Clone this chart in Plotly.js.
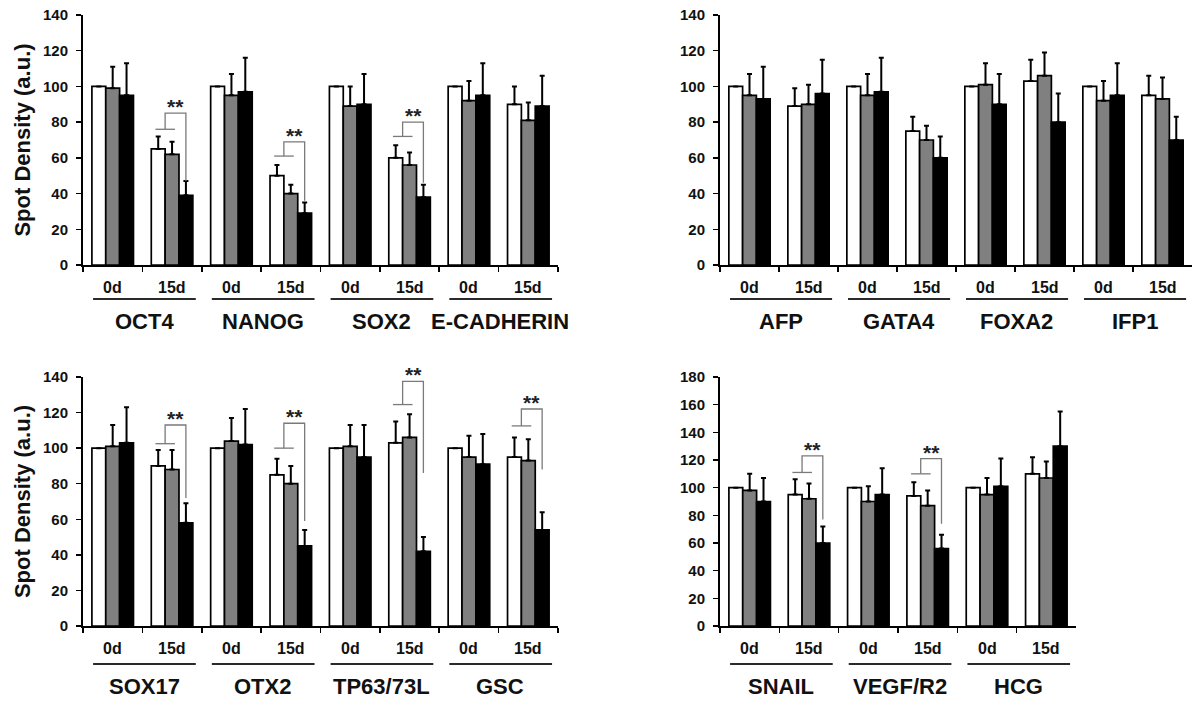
<!DOCTYPE html>
<html>
<head>
<meta charset="utf-8">
<script src="https://cdn.plot.ly/plotly-3.0.1.min.js"></script>
<style>html,body{margin:0;padding:0;background:#fff;}#chart{width:1195px;height:701px;}</style>
</head>
<body>
<div id="chart"></div>
<script>
// ---------- DATA ----------
const timepoints = ["0d", "15d"];

const p1Genes = ["OCT4", "NANOG", "SOX2", "E-CADHERIN"];
const p1White = [100, 65, 100, 50, 100, 60, 100, 90];
const p1WhiteErr = [null, 7, null, 6, null, 7, null, 10];
const p1Gray = [99, 62, 95, 40, 89, 56, 92, 81];
const p1GrayErr = [12, 7, 12, 5, 11, 7, 11, 10];
const p1Black = [95, 39, 97, 29, 90, 38, 95, 89];
const p1BlackErr = [18, 8, 19, 6, 17, 7, 18, 17];

const p2Genes = ["AFP", "GATA4", "FOXA2", "IFP1"];
const p2White = [100, 89, 100, 75, 100, 103, 100, 95];
const p2WhiteErr = [null, 10, null, 8, null, 12, null, 11];
const p2Gray = [95, 90, 95, 70, 101, 106, 92, 93];
const p2GrayErr = [12, 11, 12, 8, 12, 13, 11, 12];
const p2Black = [93, 96, 97, 60, 90, 80, 95, 70];
const p2BlackErr = [18, 19, 19, 12, 17, 16, 18, 13];

const p3Genes = ["SOX17", "OTX2", "TP63/73L", "GSC"];
const p3White = [100, 90, 100, 85, 100, 103, 100, 95];
const p3WhiteErr = [null, 9, null, 9, null, 12, null, 11];
const p3Gray = [101, 88, 104, 80, 101, 106, 95, 93];
const p3GrayErr = [12, 11, 13, 10, 12, 13, 12, 12];
const p3Black = [103, 58, 102, 45, 95, 42, 91, 54];
const p3BlackErr = [20, 11, 20, 9, 18, 8, 17, 10];

const p4Genes = ["SNAIL", "VEGF/R2", "HCG"];
const p4White = [100, 95, 100, 94, 100, 110];
const p4WhiteErr = [null, 11, null, 10, null, 12];
const p4Gray = [98, 92, 90, 87, 95, 107];
const p4GrayErr = [12, 11, 11, 11, 12, 12];
const p4Black = [90, 60, 95, 56, 101, 130];
const p4BlackErr = [17, 12, 19, 10, 20, 25];

// significance brackets: panel, category index, [short line y, bracket top y, bracket end y]
const sigPanel = [1, 1, 1, 3, 3, 3, 3, 4, 4];
const sigIndex = [1, 3, 5, 1, 3, 5, 7, 1, 3];
const sigLow = [76, 61, 72, 102.5, 100, 124.5, 112.5, 111, 110];
const sigTop = [85, 69, 80, 113, 114, 137.5, 122, 123, 121];
const sigEnd = [47, 36, 46, 72, 59, 86, 88, 77, 74];
const sigLabel = "**";

// ---------- LAYOUT GEOMETRY ----------
const W = 1195, H = 701;
const px = v => v / W;
const py = v => 1 - v / H;

const panels = [
  {genes: p1Genes, white: p1White, whiteErr: p1WhiteErr, gray: p1Gray, grayErr: p1GrayErr, black: p1Black, blackErr: p1BlackErr,
   x0: 83, x1: 558, yTop: 15, yBot: 265, ymax: 140, dayY: 287, lineY: 299, geneY: 321, title: true},
  {genes: p2Genes, white: p2White, whiteErr: p2WhiteErr, gray: p2Gray, grayErr: p2GrayErr, black: p2Black, blackErr: p2BlackErr,
   x0: 720, x1: 1192, yTop: 15, yBot: 265, ymax: 140, dayY: 287, lineY: 299, geneY: 321, title: false},
  {genes: p3Genes, white: p3White, whiteErr: p3WhiteErr, gray: p3Gray, grayErr: p3GrayErr, black: p3Black, blackErr: p3BlackErr,
   x0: 83, x1: 558, yTop: 377, yBot: 626, ymax: 140, dayY: 648, lineY: 664, geneY: 686, title: true},
  {genes: p4Genes, white: p4White, whiteErr: p4WhiteErr, gray: p4Gray, grayErr: p4GrayErr, black: p4Black, blackErr: p4BlackErr,
   x0: 720, x1: 1076, yTop: 377, yBot: 626, ymax: 180, dayY: 648, lineY: 664, geneY: 686, title: false}
];

const FONT = "Liberation Sans, Arial, Helvetica, sans-serif";
const traces = [];
const annotations = [];
const shapes = [];
const layout = {
  width: W, height: H,
  margin: {l: 0, r: 0, t: 0, b: 0},
  paper_bgcolor: "#ffffff", plot_bgcolor: "rgba(0,0,0,0)",
  showlegend: false,
  barmode: "group", bargap: 0.30, bargroupgap: 0,
  font: {family: FONT, color: "#111"}
};

panels.forEach((p, k) => {
  const n = k + 1;
  const xa = n === 1 ? "x" : "x" + n;
  const ya = n === 1 ? "y" : "y" + n;
  const cats = [];
  p.genes.forEach(g => timepoints.forEach(t => cats.push(g + " " + t)));

  const series = [
    {y: p.white, e: p.whiteErr, color: "#ffffff"},
    {y: p.gray, e: p.grayErr, color: "#808080"},
    {y: p.black, e: p.blackErr, color: "#000000"}
  ];
  series.forEach(s => {
    traces.push({
      type: "bar", x: cats, y: s.y, xaxis: xa, yaxis: ya,
      marker: {color: s.color, line: {color: "#000", width: 1.7}},
      error_y: {type: "data", symmetric: false, array: s.e, arrayminus: s.e.map(() => 0),
                color: "#000", thickness: 2, width: 2.5},
      hoverinfo: "skip"
    });
  });

  layout[n === 1 ? "xaxis" : "xaxis" + n] = {
    domain: [px(p.x0), px(p.x1)], anchor: ya, type: "category",
    range: [-0.5, cats.length - 0.5], fixedrange: true,
    showline: true, linecolor: "#000", linewidth: 2,
    ticks: "outside", tickson: "boundaries", ticklen: 5, tickwidth: 1.6, tickcolor: "#000",
    showticklabels: false, showgrid: false, zeroline: false
  };
  const yax = {
    domain: [py(p.yBot), py(p.yTop)], anchor: xa,
    range: [0, p.ymax], dtick: 20, fixedrange: true,
    showline: true, linecolor: "#000", linewidth: 2,
    ticks: "outside", ticklen: 5, tickwidth: 1.5, tickcolor: "#000",
    ticklabelstandoff: 5,
    tickfont: {family: FONT, size: 15, color: "#111", weight: "bold"},
    showgrid: false, zeroline: false
  };
  if (p.title) {
    yax.title = {text: "Spot Density (a.u.)", standoff: 6,
                 font: {family: FONT, size: 22, color: "#111", weight: "bold"}};
  }
  layout[n === 1 ? "yaxis" : "yaxis" + n] = yax;

  // time point labels
  cats.forEach((c, i) => {
    annotations.push({xref: xa, yref: "paper", x: i, y: py(p.dayY), text: timepoints[i % 2],
      showarrow: false, xanchor: "center", yanchor: "middle",
      font: {family: FONT, size: 16, color: "#111", weight: "bold"}});
  });
  // gene labels and underlines
  p.genes.forEach((g, gi) => {
    annotations.push({xref: xa, yref: "paper", x: 2 * gi + 0.53, y: py(p.geneY), text: g,
      showarrow: false, xanchor: "center", yanchor: "middle",
      font: {family: FONT, size: 22, color: "#111", weight: "bold"}});
    shapes.push({type: "line", xref: xa, yref: "paper", x0: 2 * gi - 0.33, x1: 2 * gi + 1.4,
      y0: py(p.lineY), y1: py(p.lineY), line: {color: "#2a2a2a", width: 1.8}});
  });
});

// significance brackets
sigPanel.forEach((pn, j) => {
  const xa = pn === 1 ? "x" : "x" + pn;
  const ya = pn === 1 ? "y" : "y" + pn;
  const i = sigIndex[j];
  const col = "#7a7a7a";
  shapes.push({type: "line", xref: xa, yref: ya, x0: i - 0.28, x1: i + 0.05, y0: sigLow[j], y1: sigLow[j], line: {color: col, width: 1.3}});
  shapes.push({type: "path", xref: xa, yref: ya,
    path: `M ${i - 0.117} ${sigLow[j]} L ${i - 0.117} ${sigTop[j]} L ${i + 0.233} ${sigTop[j]} L ${i + 0.233} ${sigEnd[j]}`,
    line: {color: col, width: 1.3}});
  annotations.push({xref: xa, yref: ya, x: i + 0.06, y: sigTop[j], text: sigLabel, showarrow: false,
    xanchor: "center", yanchor: "bottom", yshift: -7,
    font: {family: FONT, size: 21, color: "#222", weight: "bold"}});
});

layout.annotations = annotations;
layout.shapes = shapes;

Plotly.newPlot("chart", traces, layout, {staticPlot: true, displayModeBar: false});
</script>
</body>
</html>
